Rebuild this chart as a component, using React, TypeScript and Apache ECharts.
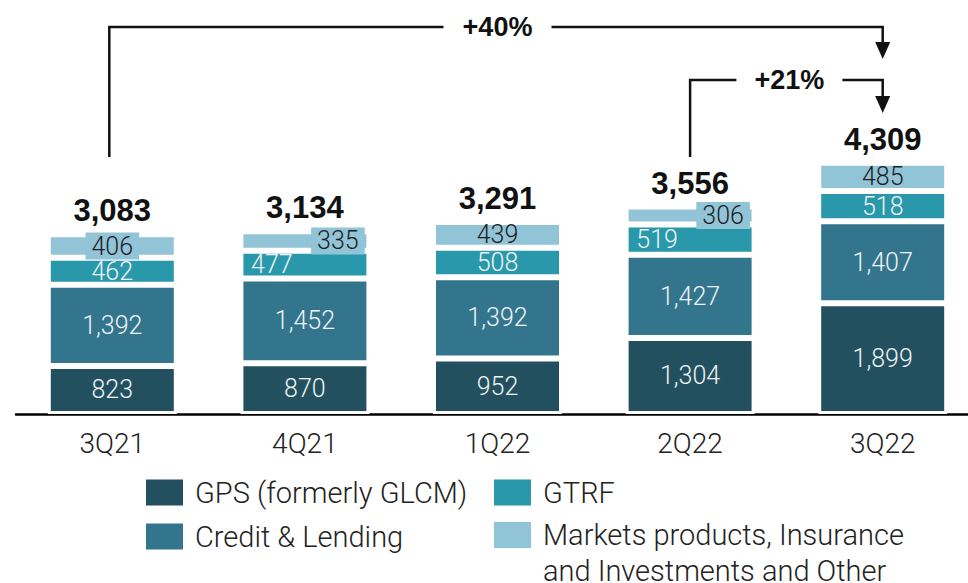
import React, { useEffect, useRef } from "react";
import * as echarts from "echarts";

const categories = ["3Q21", "4Q21", "1Q22", "2Q22", "3Q22"];
const seriesNames = [
  "GPS (formerly GLCM)",
  "Credit & Lending",
  "GTRF",
  "Markets products, Insurance and Investments and Other",
];
const gps = [823, 870, 952, 1304, 1899];
const credit = [1392, 1452, 1392, 1427, 1407];
const gtrf = [462, 477, 508, 519, 518];
const markets = [406, 335, 439, 306, 485];
const totals = [3083, 3134, 3291, 3556, 4309];
const growthLabels = ["+40%", "+21%"];

const colors = ["#23505f", "#33758d", "#2998aa", "#92c4d8"];
const fmt = (v: number) => v.toLocaleString("en-US");

export default function App() {
  const ref = useRef<HTMLDivElement>(null);
  useEffect(() => {
    if (!ref.current) return;
    document.body.style.margin = "0";
    document.body.style.overflow = "hidden";
    const chart = echarts.init(ref.current, null, { renderer: "svg" });
    const labelBase = {
      show: true,
      position: "inside",
      fontFamily: "Roboto",
      fontWeight: 300,
      fontSize: 25,
      color: "#eef3f5",
      formatter: (p: any) => fmt(p.value),
    };
    const barBase = {
      type: "bar",
      stack: "total",
      barWidth: 129,
      itemStyle: { borderColor: "#ffffff", borderWidth: 3 },
    };
    const boxLabel = (offsetX: number) => ({
      backgroundColor: colors[3],
      padding: [2, 6, 0, 6],
      offset: [offsetX, 0],
    });
    const series: any[] = [
      { ...barBase, name: seriesNames[0], color: colors[0], label: labelBase, data: gps },
      { ...barBase, name: seriesNames[1], color: colors[1], label: labelBase, data: credit },
      {
        ...barBase,
        name: seriesNames[2],
        color: colors[2],
        label: labelBase,
        data: gtrf.map((v, i) =>
          i === 1 || i === 3 ? { value: v, label: { offset: [-33, 0] } } : v
        ),
      },
      {
        ...barBase,
        name: seriesNames[3],
        color: colors[3],
        label: { ...labelBase, color: "#1e1e1e" },
        data: markets.map((v, i) =>
          i === 0
            ? { value: v, label: boxLabel(0) }
            : i === 1 || i === 3
            ? { value: v, label: boxLabel(33) }
            : v
        ),
      },
      {
        type: "bar",
        stack: "total",
        name: "Total",
        barWidth: 129,
        itemStyle: { color: "rgba(0,0,0,0)" },
        data: totals.map(() => 0),
        label: {
          show: true,
          position: "top",
          distance: 8,
          fontFamily: "Liberation Sans",
          fontWeight: "bold",
          fontSize: 31,
          color: "#111",
          formatter: (p: any) => fmt(totals[p.dataIndex]),
        },
      },
    ];
    const legendBase = {
      icon: "rect",
      itemWidth: 37,
      itemHeight: 26,
      padding: 0,
      selectedMode: false,
      itemStyle: { borderWidth: 0 },
      textStyle: {
        fontFamily: "Roboto",
        fontWeight: 300,
        fontSize: 29,
        color: "#222",
        lineHeight: 26,
        padding: [0, 0, 0, 7],
      },
    };
    chart.setOption({
      animation: false,
      grid: { left: 16, right: 1, top: 64, bottom: 169 },
      xAxis: {
        type: "category",
        data: categories,
        axisLine: { lineStyle: { color: "#000", width: 2.5 } },
        axisTick: { show: false },
        axisLabel: {
          margin: 15,
          fontFamily: "Roboto",
          fontWeight: 300,
          fontSize: 28,
          color: "#222",
        },
      },
      yAxis: { type: "value", min: 0, max: 6000, show: false },
      legend: [
        { ...legendBase, data: [seriesNames[0]], left: 146, top: 478 },
        { ...legendBase, data: [seriesNames[1]], left: 146, top: 522 },
        { ...legendBase, data: [seriesNames[2]], left: 494, top: 478 },
        {
          ...legendBase,
          data: [seriesNames[3]],
          left: 494,
          top: 481,
          formatter: () => "\nMarkets products, Insurance\nand Investments and Other",
          textStyle: { ...legendBase.textStyle, lineHeight: 36 },
        },
      ],
      series,
    });

    const cx = (i: number) =>
      chart.convertToPixel({ xAxisIndex: 0 }, categories[i]) as number;
    const lineStyle = { stroke: "#111", lineWidth: 2.5, fill: null };
    const arrow = (
      xFrom: number,
      xTo: number,
      yLine: number,
      yStart: number,
      textX: number,
      halfGap: number,
      headTop: number,
      headTip: number,
      text: string
    ) => [
      {
        type: "polyline",
        shape: { points: [[xFrom, yStart], [xFrom, yLine], [textX - halfGap, yLine]] },
        style: lineStyle,
      },
      {
        type: "polyline",
        shape: { points: [[textX + halfGap, yLine], [xTo, yLine], [xTo, headTop + 1]] },
        style: lineStyle,
      },
      {
        type: "polygon",
        shape: { points: [[xTo - 7.5, headTop], [xTo + 7.5, headTop], [xTo, headTip]] },
        style: { fill: "#111" },
      },
      {
        type: "text",
        x: textX,
        y: yLine,
        style: {
          text,
          fontFamily: "Liberation Sans",
          fontWeight: "bold",
          fontSize: 27,
          fill: "#111",
          align: "center",
          verticalAlign: "middle",
        },
      },
    ];
    const x0 = cx(0) - 3;
    const x3 = cx(3);
    const x4 = cx(4);
    chart.setOption({
      graphic: [
        ...arrow(x0, x4, 27, 157, cx(2), 54, 42, 59, growthLabels[0]),
        ...arrow(x3, x4, 80, 157, (x3 + x4) / 2 + 3, 53, 96, 113, growthLabels[1]),
      ],
    });
    return () => chart.dispose();
  }, []);
  return <div ref={ref} style={{ width: 980, height: 583 }} />;
}
